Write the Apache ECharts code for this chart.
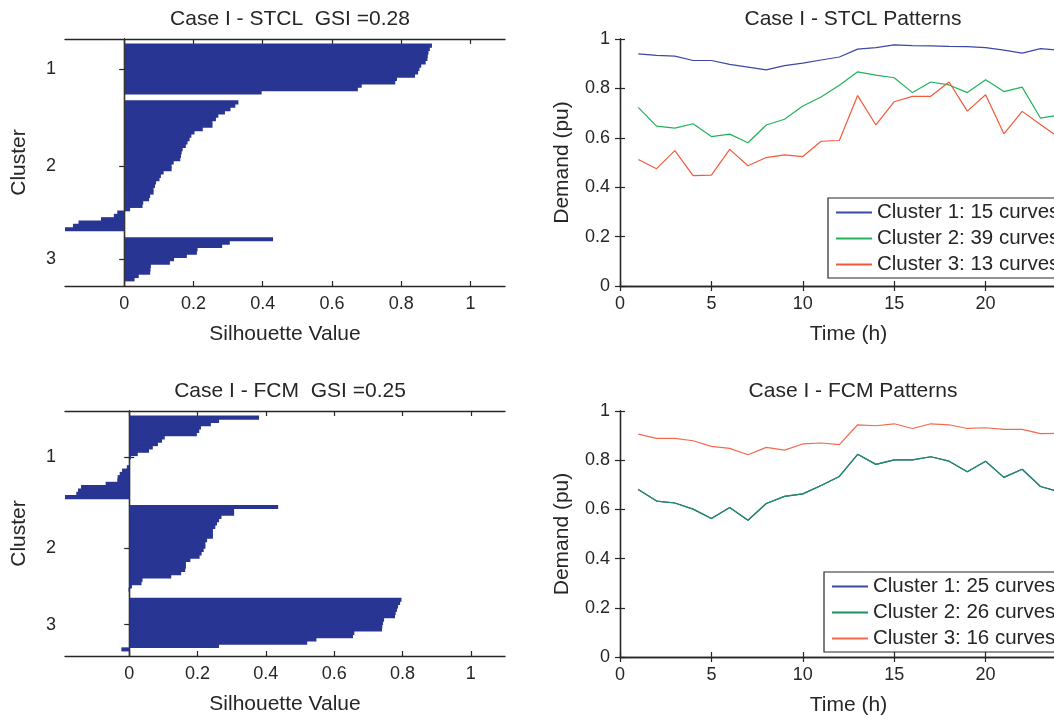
<!DOCTYPE html>
<html>
<head>
<meta charset="utf-8">
<title>Case I - STCL / FCM</title>
<script src="https://cdn.jsdelivr.net/npm/echarts@6/dist/echarts.min.js"></script>
<style>
  html, body { margin: 0; padding: 0; background: #fff; overflow: hidden; }
  #chart { width: 1100px; height: 721px; }
</style>
</head>
<body>
<div id="chart"></div>
<script>
// silhouette values, sorted per cluster
var stclSil1 = [0.889, 0.883, 0.879, 0.877, 0.876, 0.871, 0.858, 0.853, 0.849, 0.840, 0.788, 0.783, 0.686, 0.675, 0.397];
var stclSil2 = [0.330, 0.321, 0.307, 0.291, 0.272, 0.265, 0.255, 0.255, 0.227, 0.203, 0.194, 0.189, 0.183, 0.178, 0.169, 0.166, 0.164, 0.162,
  0.143, 0.137, 0.137, 0.114, 0.106, 0.102, 0.092, 0.089, 0.085, 0.085, 0.075, 0.072, 0.055, 0.053, 0.017, -0.020, -0.030, -0.067, -0.132, -0.148, -0.171];
var stclSil3 = [0.430, 0.305, 0.283, 0.212, 0.210, 0.181, 0.144, 0.132, 0.077, 0.076, 0.075, 0.042, 0.030];

var fcmSil1 = [0.380, 0.263, 0.239, 0.210, 0.205, 0.198, 0.104, 0.096, 0.084, 0.069, 0.058, 0.025, 0.005, 0.002, 0.001,
  -0.007, -0.021, -0.028, -0.034, -0.035, -0.069, -0.141, -0.150, -0.155, -0.188];
var fcmSil2 = [0.436, 0.307, 0.307, 0.270, 0.263, 0.257, 0.252, 0.245, 0.245, 0.245, 0.228, 0.223, 0.223, 0.218, 0.212, 0.206,
  0.179, 0.166, 0.166, 0.164, 0.152, 0.123, 0.039, 0.036, 0.008, -0.002];
var fcmSil3 = [0.797, 0.793, 0.787, 0.784, 0.780, 0.778, 0.746, 0.743, 0.741, 0.740, 0.659, 0.655, 0.548, 0.521, 0.263, -0.023];

var clusterLabels = ['1', '2', '3'];
var silTicks = [0, 0.2, 0.4, 0.6, 0.8, 1];

// demand patterns (pu) per hour
var hours = [1, 2, 3, 4, 5, 6, 7, 8, 9, 10, 11, 12, 13, 14, 15, 16, 17, 18, 19, 20, 21, 22, 23, 24];
var stclPat1 = [0.940, 0.934, 0.931, 0.913, 0.913, 0.897, 0.886, 0.875, 0.892, 0.902, 0.915, 0.927, 0.959, 0.965, 0.976, 0.973, 0.972, 0.970, 0.969, 0.965, 0.955, 0.943, 0.961, 0.955];
var stclPat2 = [0.723, 0.647, 0.639, 0.657, 0.605, 0.615, 0.580, 0.652, 0.675, 0.729, 0.765, 0.813, 0.867, 0.854, 0.843, 0.783, 0.826, 0.814, 0.783, 0.835, 0.787, 0.805, 0.680, 0.692];
var stclPat3 = [0.512, 0.475, 0.548, 0.447, 0.449, 0.553, 0.487, 0.520, 0.531, 0.524, 0.586, 0.589, 0.771, 0.652, 0.746, 0.768, 0.768, 0.826, 0.708, 0.774, 0.616, 0.707, 0.654, 0.601];
var fcmPat1 = [0.681, 0.634, 0.626, 0.601, 0.563, 0.608, 0.556, 0.624, 0.653, 0.663, 0.697, 0.734, 0.824, 0.783, 0.801, 0.801, 0.814, 0.796, 0.753, 0.796, 0.730, 0.763, 0.693, 0.672];
var fcmPat2 = [0.681, 0.634, 0.626, 0.601, 0.563, 0.608, 0.556, 0.624, 0.653, 0.663, 0.697, 0.734, 0.824, 0.783, 0.801, 0.801, 0.814, 0.796, 0.753, 0.796, 0.730, 0.763, 0.693, 0.672];
var fcmPat3 = [0.906, 0.889, 0.889, 0.879, 0.856, 0.848, 0.822, 0.852, 0.841, 0.866, 0.870, 0.863, 0.944, 0.940, 0.948, 0.929, 0.948, 0.944, 0.929, 0.932, 0.925, 0.925, 0.908, 0.909];

var stclNames = ['Cluster 1: 15 curves', 'Cluster 2: 39 curves', 'Cluster 3: 13 curves'];
var fcmNames = ['Cluster 1: 25 curves', 'Cluster 2: 26 curves', 'Cluster 3: 16 curves'];

var txtColor = '#262626';
var fontFam = '"Liberation Sans", Arial, Helvetica, sans-serif';
var barColor = '#283593';

// matlab silhouette layout: 2 empty rows before and after every cluster
function silRows(clusters) {
  var space = 2, row = space, data = [], centers = [];
  clusters.forEach(function (vals) {
    var first = row + 1;
    vals.forEach(function (v) {
      row += 1;
      data.push([v, row]);
    });
    centers.push((first + row) / 2);
    row += space;
  });
  return { data: data, centers: centers, max: row };
}

var stclRows = silRows([stclSil1, stclSil2, stclSil3]);
var fcmRows = silRows([fcmSil1, fcmSil2, fcmSil3]);

function renderBar(params, api) {
  var v = api.value(0), r = api.value(1);
  var p0 = api.coord([0, r - 0.5]);
  var p1 = api.coord([v, r + 0.5]);
  var top = Math.min(p0[1], p1[1]);
  // small overlap so neighbouring rows don't leave hairline gaps
  return {
    type: 'rect',
    shape: {
      x: Math.min(p0[0], p1[0]),
      y: top - 0.4,
      width: Math.abs(p1[0] - p0[0]),
      height: Math.abs(p1[1] - p0[1]) + 0.8
    },
    style: { fill: barColor }
  };
}

var grids = [
  { left: 65, top: 39, width: 440, height: 247 },
  { left: 620, top: 39, width: 457, height: 247 },
  { left: 65, top: 411, width: 440, height: 245 },
  { left: 620, top: 411, width: 457, height: 246 }
];

var lineAx = { show: true, lineStyle: { color: txtColor, width: 1.3 } };
var tickIn = { show: true, inside: true, length: 5, lineStyle: { color: txtColor, width: 1.2 } };
var lbl = { color: txtColor, fontSize: 18, fontFamily: fontFam };
var nameStyle = { color: txtColor, fontSize: 21, fontFamily: fontFam };

function silAxes(gi, rows, min) {
  var yLbl = Object.assign({}, lbl, {
    margin: 9,
    customValues: rows.centers,
    formatter: function (v) { return clusterLabels[rows.centers.indexOf(v)]; }
  });
  var x = [
    { gridIndex: gi, type: 'value', min: min, max: 1.1, position: 'bottom', axisLine: lineAx,
      axisTick: Object.assign({ customValues: silTicks }, tickIn),
      axisLabel: Object.assign({ margin: 9, customValues: silTicks }, lbl),
      splitLine: { show: false },
      name: 'Silhouette Value', nameLocation: 'middle', nameGap: 38, nameTextStyle: nameStyle },
    { gridIndex: gi, type: 'value', min: min, max: 1.1, position: 'top', axisLine: lineAx,
      axisTick: Object.assign({ customValues: silTicks }, tickIn),
      axisLabel: { show: false }, splitLine: { show: false } }
  ];
  var y = [
    { gridIndex: gi, type: 'value', inverse: true, min: 1, max: rows.max, position: 'left', axisLine: lineAx,
      axisTick: Object.assign({ customValues: rows.centers }, tickIn),
      axisLabel: yLbl, splitLine: { show: false },
      name: 'Cluster', nameLocation: 'middle', nameGap: 35, nameTextStyle: nameStyle },
    { gridIndex: gi, type: 'value', inverse: true, min: 1, max: rows.max, position: 'right', axisLine: lineAx,
      axisTick: Object.assign({ customValues: rows.centers }, tickIn),
      axisLabel: { show: false }, splitLine: { show: false } }
  ];
  return { x: x, y: y };
}

function patAxes(gi) {
  var x = [
    { gridIndex: gi, type: 'value', min: 0, max: 25, interval: 5, position: 'bottom', axisLine: lineAx,
      axisTick: tickIn, axisLabel: Object.assign({ margin: 9 }, lbl), splitLine: { show: false },
      name: 'Time (h)', nameLocation: 'middle', nameGap: 38, nameTextStyle: nameStyle },
    { gridIndex: gi, type: 'value', min: 0, max: 25, interval: 5, position: 'top', axisLine: lineAx,
      axisTick: tickIn, axisLabel: { show: false }, splitLine: { show: false } }
  ];
  var y = [
    { gridIndex: gi, type: 'value', min: 0, max: 1, interval: 0.2, position: 'left', axisLine: lineAx,
      axisTick: tickIn, axisLabel: Object.assign({ margin: 10 }, lbl), splitLine: { show: false },
      name: 'Demand (pu)', nameLocation: 'middle', nameGap: 47, nameTextStyle: nameStyle },
    { gridIndex: gi, type: 'value', min: 0, max: 1, interval: 0.2, position: 'right', axisLine: lineAx,
      axisTick: tickIn, axisLabel: { show: false }, splitLine: { show: false } }
  ];
  return { x: x, y: y };
}

var a0 = silAxes(0, stclRows, -0.171);
var a1 = patAxes(1);
var a2 = silAxes(2, fcmRows, -0.188);
var a3 = patAxes(3);

function silSeries(rows, xi, yi) {
  return {
    type: 'custom', xAxisIndex: xi, yAxisIndex: yi,
    renderItem: renderBar, data: rows.data, encode: { x: 0, y: 1 },
    markLine: {
      silent: true, symbol: 'none', label: { show: false },
      lineStyle: { color: '#333', width: 1, type: 'solid' },
      data: [{ xAxis: 0 }]
    }
  };
}

function pat(name, vals, color, xi, yi) {
  return {
    name: name, type: 'line', xAxisIndex: xi, yAxisIndex: yi, symbol: 'none',
    lineStyle: { color: color, width: 1.2 }, itemStyle: { color: color },
    data: hours.map(function (h, i) { return [h, vals[i]]; })
  };
}

function legendAt(left, top, names) {
  return {
    orient: 'vertical', left: left, top: top, data: names,
    itemWidth: 36, itemHeight: 14, itemGap: 5, padding: [4, 14, 3, 7],
    borderColor: txtColor, borderWidth: 1.2, backgroundColor: '#fff',
    itemStyle: { opacity: 0 },
    textStyle: { color: txtColor, fontSize: 20.5, fontFamily: fontFam }
  };
}

var titleStyle = { color: txtColor, fontSize: 21, fontWeight: 'normal', fontFamily: fontFam };

var option = {
  animation: false,
  backgroundColor: '#fff',
  title: [
    { text: 'Case I - STCL  GSI =0.28', left: 285, top: 4, textAlign: 'center', textStyle: titleStyle },
    { text: 'Case I - STCL Patterns', left: 848, top: 4, textAlign: 'center', textStyle: titleStyle },
    { text: 'Case I - FCM  GSI =0.25', left: 285, top: 376, textAlign: 'center', textStyle: titleStyle },
    { text: 'Case I - FCM Patterns', left: 848, top: 376, textAlign: 'center', textStyle: titleStyle }
  ],
  grid: grids,
  xAxis: a0.x.concat(a1.x, a2.x, a3.x),
  yAxis: a0.y.concat(a1.y, a2.y, a3.y),
  legend: [legendAt(828, 198, stclNames), legendAt(824, 572, fcmNames)],
  series: [
    silSeries(stclRows, 0, 0),
    pat(stclNames[0], stclPat1, '#3a48a6', 2, 2),
    pat(stclNames[1], stclPat2, '#22b25c', 2, 2),
    pat(stclNames[2], stclPat3, '#f25a3a', 2, 2),
    silSeries(fcmRows, 4, 4),
    pat(fcmNames[0], fcmPat1, '#3a48a6', 6, 6),
    pat(fcmNames[1], fcmPat2, '#1b9060', 6, 6),
    pat(fcmNames[2], fcmPat3, '#f36a4c', 6, 6)
  ]
};

var chart = echarts.init(document.getElementById('chart'));
chart.setOption(option);
</script>
</body>
</html>
